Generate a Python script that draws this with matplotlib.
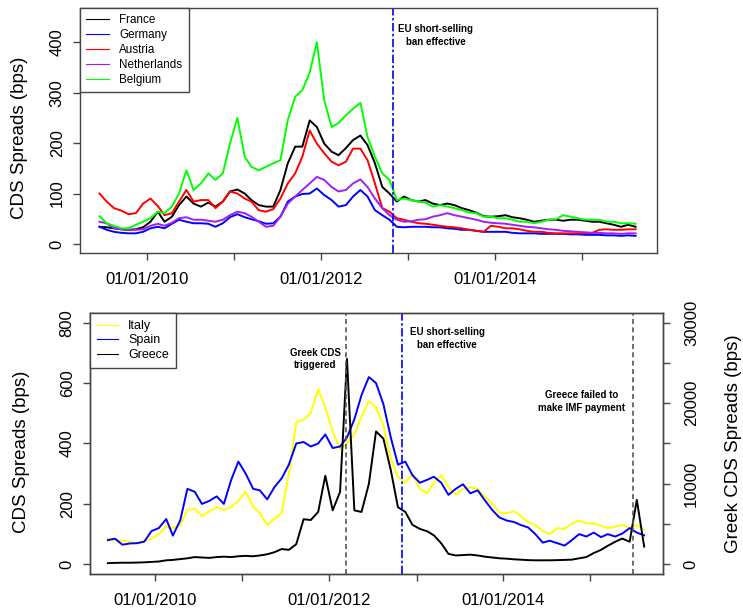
import matplotlib
matplotlib.use("Agg")
import matplotlib.pyplot as plt
import pandas as pd
from matplotlib.lines import Line2D

plt.rcParams['font.family'] = ['Liberation Sans', 'DejaVu Sans']

# observaciones mensuales (mitad de mes), jun 2009 - ago 2015
fechas = pd.date_range("2009-06-01", "2015-08-01", freq="MS") + pd.Timedelta(days=14)

francia = [34, 33, 31, 29, 28, 29, 33, 44, 64, 44,
           54, 77, 94, 80, 74, 82, 74, 84, 104, 108,
           100, 87, 77, 74, 74, 107, 160, 193, 193, 245,
           232, 199, 183, 176, 190, 206, 215, 196, 160, 113,
           100, 84, 94, 87, 84, 87, 80, 77, 80, 77,
           71, 67, 62, 55, 54, 55, 57, 53, 51, 48,
           44, 46, 48, 48, 46, 48, 48, 46, 44, 44,
           41, 38, 34, 38, 34]
alemania = [34, 28, 24, 22, 21, 21, 24, 31, 34, 31,
            40, 48, 44, 41, 41, 40, 34, 41, 53, 59,
            53, 49, 45, 40, 41, 54, 84, 94, 99, 100,
            110, 97, 87, 74, 77, 94, 107, 94, 67, 57,
            48, 34, 33, 34, 34, 34, 33, 33, 31, 30,
            28, 28, 26, 24, 24, 24, 24, 22, 21, 21,
            21, 20, 20, 20, 20, 19, 19, 18, 18, 18,
            17, 17, 16, 17, 16]
austria = [100, 84, 71, 66, 59, 61, 80, 90, 75, 57,
           61, 84, 107, 84, 87, 87, 71, 84, 104, 100,
           90, 84, 67, 64, 69, 90, 120, 140, 173, 225,
           199, 180, 163, 156, 163, 189, 189, 166, 120, 71,
           64, 51, 48, 44, 41, 40, 38, 36, 34, 33,
           31, 28, 26, 24, 36, 34, 31, 31, 29, 26,
           24, 24, 22, 21, 21, 21, 21, 21, 22, 28,
           29, 28, 28, 29, 29]
holanda = [44, 41, 31, 29, 28, 28, 29, 36, 40, 36,
           42, 51, 53, 48, 48, 46, 44, 48, 57, 64,
           61, 54, 44, 34, 36, 54, 80, 94, 107, 120,
           133, 127, 113, 104, 107, 120, 128, 113, 90, 71,
           57, 48, 44, 45, 48, 49, 54, 57, 61, 57,
           54, 51, 48, 44, 42, 41, 40, 38, 36, 34,
           33, 31, 29, 28, 26, 25, 24, 23, 22, 22,
           21, 21, 20, 21, 21]
belgica = [55, 41, 36, 31, 31, 38, 44, 51, 64, 61,
           74, 100, 146, 107, 120, 140, 127, 140, 199, 250,
           173, 153, 146, 153, 160, 166, 246, 292, 305, 340,
           400, 285, 232, 240, 255, 268, 280, 212, 173, 140,
           127, 87, 90, 87, 84, 82, 74, 77, 74, 71,
           67, 62, 61, 54, 54, 51, 51, 48, 44, 44,
           41, 44, 48, 49, 57, 54, 51, 48, 48, 48,
           44, 44, 41, 41, 40]

italia = [85, 80, 78, 75, 70, 78, 85, 100, 125, 120,
          130, 180, 185, 160, 175, 190, 180, 190, 210, 240,
          190, 170, 130, 150, 170, 300, 470, 480, 500, 580,
          520, 440, 380, 400, 430, 490, 540, 520, 460, 350,
          290, 270, 300, 250, 235, 270, 295, 255, 230, 250,
          255, 250, 225, 200, 170, 170, 175, 160, 140, 130,
          110, 100, 120, 118, 135, 145, 135, 135, 128, 120,
          125, 130, 120, 130, 115]
espana = [80, 85, 65, 69, 70, 75, 110, 120, 150, 95,
          146, 250, 240, 200, 210, 225, 200, 280, 340, 300,
          250, 245, 215, 255, 285, 330, 400, 405, 390, 400,
          430, 385, 390, 420, 480, 560, 620, 600, 530, 420,
          330, 340, 295, 270, 280, 290, 270, 230, 250, 265,
          235, 245, 212, 180, 155, 145, 140, 130, 122, 100,
          72, 78, 70, 62, 80, 100, 92, 105, 90, 100,
          92, 102, 120, 105, 96]
grecia = [150, 180, 200, 200, 220, 250, 300, 350, 500, 550,
          650, 750, 900, 850, 800, 900, 950, 900, 1000, 1050,
          1000, 1100, 1250, 1500, 1900, 1800, 2500, 5600, 5500, 6500,
          11000, 6700, 9000, 25500, 6700, 6500, 10000, 16500, 15600, 11700,
          7100, 6500, 4900, 4400, 4100, 3600, 2600, 1300, 1100, 1150,
          1200, 1100, 950, 850, 750, 700, 620, 580, 520, 500,
          500, 500, 520, 550, 580, 750, 900, 1400, 1800, 2300,
          2800, 3200, 2800, 8000, 2200]

anios = [2010, 2011, 2012, 2013, 2014, 2015]
etiquetas = ["01/01/2010", "", "01/01/2012", "", "01/01/2014", ""]

fecha_prohibicion = pd.Timestamp("2012-11-01")
fecha_cds = pd.Timestamp("2012-03-09")
fecha_fmi = pd.Timestamp("2015-06-30")

gris = "#444444"
dotdash = (0, (5, 1.5, 1.5, 1.5))


def estilo_eje(ax, pad_y=6):
    for s in ax.spines.values():
        s.set_color(gris)
        s.set_linewidth(1.0)
    ax.tick_params(direction="out", length=5, width=1.0, color=gris,
                   labelsize=12)
    ax.tick_params(axis="x", pad=9)
    ax.tick_params(axis="y", pad=pad_y)
    ax.set_xticks([pd.Timestamp(f"{a}-01-01") for a in anios])
    ax.set_xticklabels(etiquetas)
    for t in ax.get_yticklabels():
        t.set_rotation(90)
        t.set_va("center")


fig = plt.figure(figsize=(7.43, 6.11), dpi=100)

# ---------------- panel superior
ax1 = fig.add_axes([80 / 743, 1 - 253 / 611, 577 / 743, 245 / 611])
series1 = [("France", francia, "black"), ("Germany", alemania, "#0000FF"),
           ("Austria", austria, "#FF0000"), ("Netherlands", holanda, "#A020F0"),
           ("Belgium", belgica, "#00FF00")]
for nombre, vals, col in series1:
    ax1.plot(fechas, vals, color=col, lw=1.4)
ax1.axvline(fecha_prohibicion, color="#0000FF", lw=1.2, linestyle=dotdash)
ax1.set_xlim(pd.Timestamp("2009-03-25"), pd.Timestamp("2015-11-13"))
ax1.set_ylim(-18, 468)
ax1.set_yticks([0, 100, 200, 300, 400])
estilo_eje(ax1)
ax1.set_ylabel("CDS Spreads (bps)", fontsize=13.5)
ax1.yaxis.set_label_coords(-0.09, 0.47)
ax1.text(pd.Timestamp("2013-04-28"), 413, "EU short-selling\nban effective",
         ha="center", va="center", fontsize=7, fontweight="bold", linespacing=1.35)
h1 = [Line2D([], [], color=c, lw=0.8) for _, _, c in series1]
ax1.legend(h1, [n for n, _, _ in series1], loc="upper left", fontsize=8.4,
           frameon=True, fancybox=False, edgecolor=gris, framealpha=1,
           borderaxespad=0, handlelength=1.9, handletextpad=0.9,
           labelspacing=0.24, borderpad=0.55).get_frame().set_linewidth(1.0)

# ---------------- panel inferior
ax2 = fig.add_axes([90 / 743, 1 - 574 / 611, 573 / 743, 261 / 611])
ax2.plot(fechas, italia, color="#FFFF00", lw=1.4)
ax2.plot(fechas, espana, color="#0000FF", lw=1.4)
ax2.set_xlim(pd.Timestamp("2009-04-01"), pd.Timestamp("2015-11-02"))
ax2.set_ylim(-32, 832)
ax2.set_yticks([0, 200, 400, 600, 800])
estilo_eje(ax2)
ax2.set_ylabel("CDS Spreads (bps)", fontsize=13.5)
ax2.yaxis.set_label_coords(-0.105, 0.47)

ax2r = ax2.twinx()
ax2r.plot(fechas, grecia, color="black", lw=1.4)
ax2r.set_ylim(-1200, 31200)
ax2r.set_yticks([0, 5000, 10000, 15000, 20000, 25000, 30000])
ax2r.set_yticklabels(["0", "", "10000", "", "20000", "", "30000"])
estilo_eje(ax2r, pad_y=10)
ax2r.set_xlim(pd.Timestamp("2009-04-01"), pd.Timestamp("2015-11-02"))
ax2r.set_ylabel("Greek CDS Spreads (bps)", fontsize=13.5, rotation=90)
ax2r.yaxis.set_label_coords(1.108, 0.5)
ax2r.yaxis.label.set_va("top")

ax2r.axvline(fecha_cds, color="#555555", lw=1.2, linestyle=(0, (3, 2)))
ax2r.axvline(fecha_fmi, color="#555555", lw=1.2, linestyle=(0, (3, 2)))
ax2r.axvline(fecha_prohibicion, color="#0000FF", lw=1.2, linestyle=dotdash)

ax2.text(pd.Timestamp("2011-11-03"), 680, "Greek CDS\ntriggered",
         ha="center", va="center", fontsize=7, fontweight="bold", linespacing=1.35)
ax2.text(pd.Timestamp("2013-05-10"), 747, "EU short-selling\nban effective",
         ha="center", va="center", fontsize=7, fontweight="bold", linespacing=1.35)
ax2.text(pd.Timestamp("2014-11-24"), 539, "Greece failed to\nmake IMF payment",
         ha="center", va="center", fontsize=7, fontweight="bold", linespacing=1.35)

h2 = [Line2D([], [], color=c, lw=0.8) for c in ["#FFFF00", "#0000FF", "black"]]
leg2 = ax2r.legend(h2, ["Italy", "Spain", "Greece"], loc="upper left", fontsize=9,
                   frameon=True, fancybox=False, edgecolor=gris, framealpha=1,
                   borderaxespad=0, handlelength=1.7, handletextpad=0.8,
                   labelspacing=0.2, borderpad=0.55)
leg2.get_frame().set_linewidth(1.0)

fig.savefig("out.png", dpi=100)
